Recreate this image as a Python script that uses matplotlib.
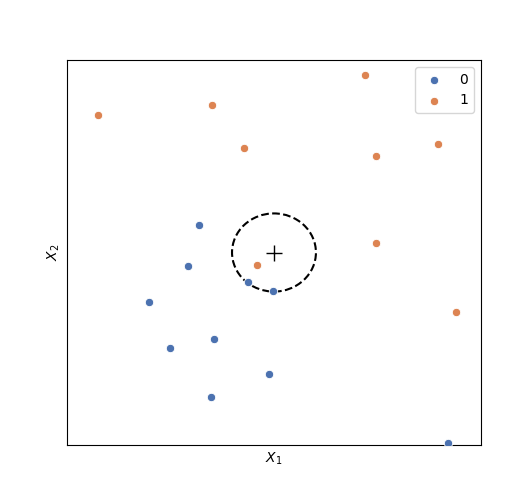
import matplotlib
matplotlib.use("Agg")
import matplotlib.pyplot as plt
from matplotlib.patches import Circle

x0 = [-0.363, -0.415, -0.127, -0.006, -0.606, -0.290, -0.505, -0.023, -0.305, 0.840]
y0 = [0.143, -0.069, -0.155, -0.198, -0.259, -0.449, -0.498, -0.631, -0.749, -0.988]
x1 = [-0.850, -0.300, -0.145, 0.442, 0.793, 0.493, 0.493, -0.084, 0.881]
y1 = [0.713, 0.766, 0.541, 0.924, 0.562, 0.501, 0.051, -0.063, -0.311]
query = (0.0, 0.0)
radius = 0.203
labels = ["0", "1"]
colors = ["#4C72B0", "#DD8452"]

fig, ax = plt.subplots(figsize=(5.32, 5.0), dpi=100)
fig.subplots_adjust(left=0.1265, right=0.9035, bottom=0.11, top=0.88)
ax.scatter(x0, y0, s=36, c=colors[0], edgecolors="white", linewidths=0.6, label=labels[0], zorder=3)
ax.scatter(x1, y1, s=36, c=colors[1], edgecolors="white", linewidths=0.6, label=labels[1], zorder=3)
ax.plot([query[0]], [query[1]], marker="+", color="black", markersize=12, markeredgewidth=1.0, linestyle="none")
ax.add_patch(Circle(query, radius, fill=False, edgecolor="black", linestyle="--", linewidth=1.5))
ax.set_xlim(-1, 1)
ax.set_ylim(-1, 1)
ax.set_xticks([])
ax.set_yticks([])
ax.set_xlabel("$X_1$")
ax.set_ylabel("$X_2$")
ax.legend(loc="upper right")
fig.savefig("out.png", dpi=100)
